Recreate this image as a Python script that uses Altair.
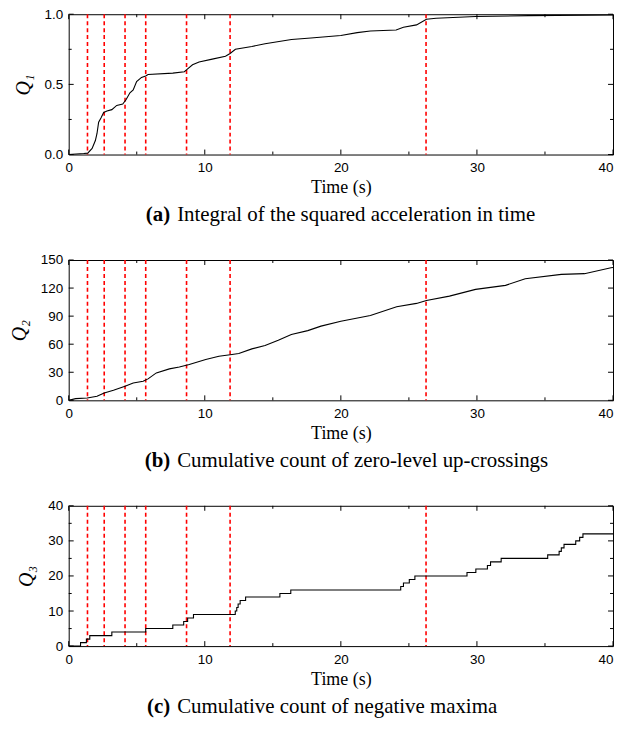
import altair as alt
import pandas as pd

# ---------------- data ----------------
t1 = [0, 1.11, 1.40, 1.72, 1.96, 2.08, 2.20, 2.37, 2.57, 2.81, 3.17, 3.53, 3.97, 4.21,
      4.50, 4.74, 4.99, 5.35, 5.66, 5.83, 7.65, 8.50, 8.74, 9.10, 9.58, 10.55, 11.52,
      11.86, 12.25, 13.46, 14.43, 16.37, 17.8, 20.0, 21.2, 22.17, 24.06, 24.6, 25.56,
      26.29, 27.0, 29.9, 33.8, 40]
q1 = [0, 0.007, 0.01, 0.043, 0.10, 0.15, 0.23, 0.26, 0.30, 0.31, 0.32, 0.35, 0.36, 0.39,
      0.44, 0.46, 0.52, 0.55, 0.56, 0.57, 0.58, 0.59, 0.61, 0.64, 0.66, 0.68, 0.70,
      0.72, 0.75, 0.77, 0.79, 0.82, 0.83, 0.848, 0.869, 0.88, 0.888, 0.907, 0.924,
      0.964, 0.971, 0.984, 0.99, 0.995]

t2 = [0, 0.51, 1.36, 2.08, 2.61, 3.29, 4.14, 4.74, 5.47, 5.83, 6.44, 7.4, 8.13, 8.86,
      10.07, 11.04, 12.0, 12.5, 13.46, 14.43, 15.4, 16.36, 17.57, 18.54, 20.0, 22.17,
      24.1, 25.56, 26.29, 27.98, 29.9, 32.1, 33.55, 36.2, 37.9, 39.85, 40]
q2 = [0, 1.8, 2.5, 4.3, 7.9, 10.7, 15, 18.6, 20.4, 22.9, 29.3, 33.6, 35.7, 38.2,
      43.6, 47.1, 49, 50, 55, 58.6, 64.3, 70.4, 74.5, 79.3, 84.6, 90.7,
      100, 103.6, 106.8, 111.4, 118.6, 122.9, 130, 134.6, 135.4, 141.8, 142]

t3 = [0, 0.87, 1.3, 1.55, 3.17, 5.66, 7.65, 8.45, 8.74, 9.17, 12.24, 12.35, 12.45, 12.6,
      13.0, 15.52, 16.32, 24.4, 24.6, 25.03, 25.44, 29.27, 29.92, 30.77, 31.0, 31.78,
      35.2, 36.04, 36.2, 36.4, 37.26, 37.55, 37.79, 40]
q3 = [0, 1, 2, 3, 4, 5, 6, 7, 8, 9, 10, 11, 12, 13, 14, 15, 16, 17, 18, 19, 20, 21, 22,
      23, 24, 25, 26, 27, 28, 29, 30, 31, 32, 32]

red_times = [1.38, 2.61, 4.14, 5.66, 8.66, 11.86, 26.26]

x_major = [0, 10, 20, 30, 40]
x_minor = [5, 15, 25, 35]

y1_major = [0, 0.5, 1.0]
y1_minor = [0.25, 0.75]
y2_major = [0, 30, 60, 90, 120, 150]
y2_minor = []
y3_major = [0, 10, 20, 30, 40]
y3_minor = [5, 15, 25, 35]

tags = ["(a)", "(b)", "(c)"]
captions = ["Integral of the squared acceleration in time",
            "Cumulative count of zero-level up-crossings",
            "Cumulative count of negative maxima"]
ylabels = ["Q\u2081", "Q\u2082", "Q\u2083"]

W, H = 547, 141
SANS = "Liberation Sans"
SERIF = "Liberation Serif"


def panel(t, q, ylabel, ydom, ymaj, ymin, yfmt, tag, caption, step=False):
    df = pd.DataFrame({"t": t, "q": q})
    xenc = alt.X("t:Q", scale=alt.Scale(domain=[0, 40], nice=False, zero=False),
                 title="Time (s)", axis=alt.Axis(
        values=x_major, ticks=False, domain=False, grid=False,
        labelFont=SANS, labelFontSize=13.5, labelColor="black", labelPadding=6,
        labelAlign=alt.expr("datum.value >= 40 ? 'right' : 'center'"),
        labelOverlap=False, labelBound=False,
        titleFont=SERIF, titleFontSize=18, titleFontWeight="normal",
        titleColor="black", titlePadding=5, labelFlush=False))
    yenc = alt.Y("q:Q", scale=alt.Scale(domain=ydom, nice=False, zero=False),
                 title=ylabel, axis=alt.Axis(
        values=ymaj, format=yfmt, ticks=False, domain=False, grid=False,
        labelFont=SANS, labelFontSize=13.5, labelColor="black", labelPadding=6,
        labelOverlap=False, labelBound=False, labelSeparation=0,
        titleFont=SERIF, titleFontSize=20, titleFontStyle="italic",
        titleFontWeight="normal", titleColor="black", titlePadding=11,
        labelFlush=False))

    def ticks(vals, side, size):
        base = alt.Chart(pd.DataFrame({"t": vals, "q": vals})).mark_rule(
            color="black", strokeWidth=1)
        if side == "bottom":
            return base.encode(x=xenc, y=alt.value(H), y2=alt.value(H - size))
        if side == "top":
            return base.encode(x=xenc, y=alt.value(0), y2=alt.value(size))
        if side == "left":
            return base.encode(y=yenc, x=alt.value(0), x2=alt.value(size))
        return base.encode(y=yenc, x=alt.value(W), x2=alt.value(W - size))

    red = alt.Chart(pd.DataFrame({"t": red_times})).mark_rule(
        color="#ff0000", strokeDash=[4, 3], strokeWidth=1.6
    ).encode(x=xenc)
    line = alt.Chart(df).mark_line(
        color="black", strokeWidth=1.1,
        interpolate="step-after" if step else "linear",
    ).encode(x=xenc, y=yenc)

    layers = [red, line]
    for side in ["bottom", "top"]:
        layers.append(ticks(x_major, side, 5))
        layers.append(ticks(x_minor, side, 3))
    for side in ["left", "right"]:
        layers.append(ticks(ymaj, side, 5))
        if ymin:
            layers.append(ticks(ymin, side, 3))
    cap_df = pd.DataFrame({"tag": [tag], "cap": [caption]})
    tag_txt = alt.Chart(cap_df).mark_text(
        font=SERIF, fontSize=21, fontWeight="bold", align="right", baseline="middle",
        color="black"
    ).encode(text="tag:N", x=alt.value(102), y=alt.value(H + 61))
    cap_txt = alt.Chart(cap_df).mark_text(
        font=SERIF, fontSize=21, align="left", baseline="middle", color="black"
    ).encode(text="cap:N", x=alt.value(109), y=alt.value(H + 61))
    layers += [tag_txt, cap_txt]
    return alt.layer(*layers).properties(width=W, height=H)


pa = panel(t1, q1, ylabels[0], [0, 1], y1_major, y1_minor, ".1f", tags[0], captions[0])
pb = panel(t2, q2, ylabels[1], [0, 150], y2_major, y2_minor, "d", tags[1], captions[1])
pc = panel(t3, q3, ylabels[2], [0, 40], y3_major, y3_minor, "d", tags[2], captions[2], step=True)

chart = alt.vconcat(pa, pb, pc, spacing=106, bounds="flush").properties(
    padding={"left": 0, "top": -3.5, "right": 0, "bottom": 0},
    background="white",
).configure_view(stroke="black", strokeWidth=1)

chart.save("out.html", embed_options={"renderer": "svg", "actions": False})
